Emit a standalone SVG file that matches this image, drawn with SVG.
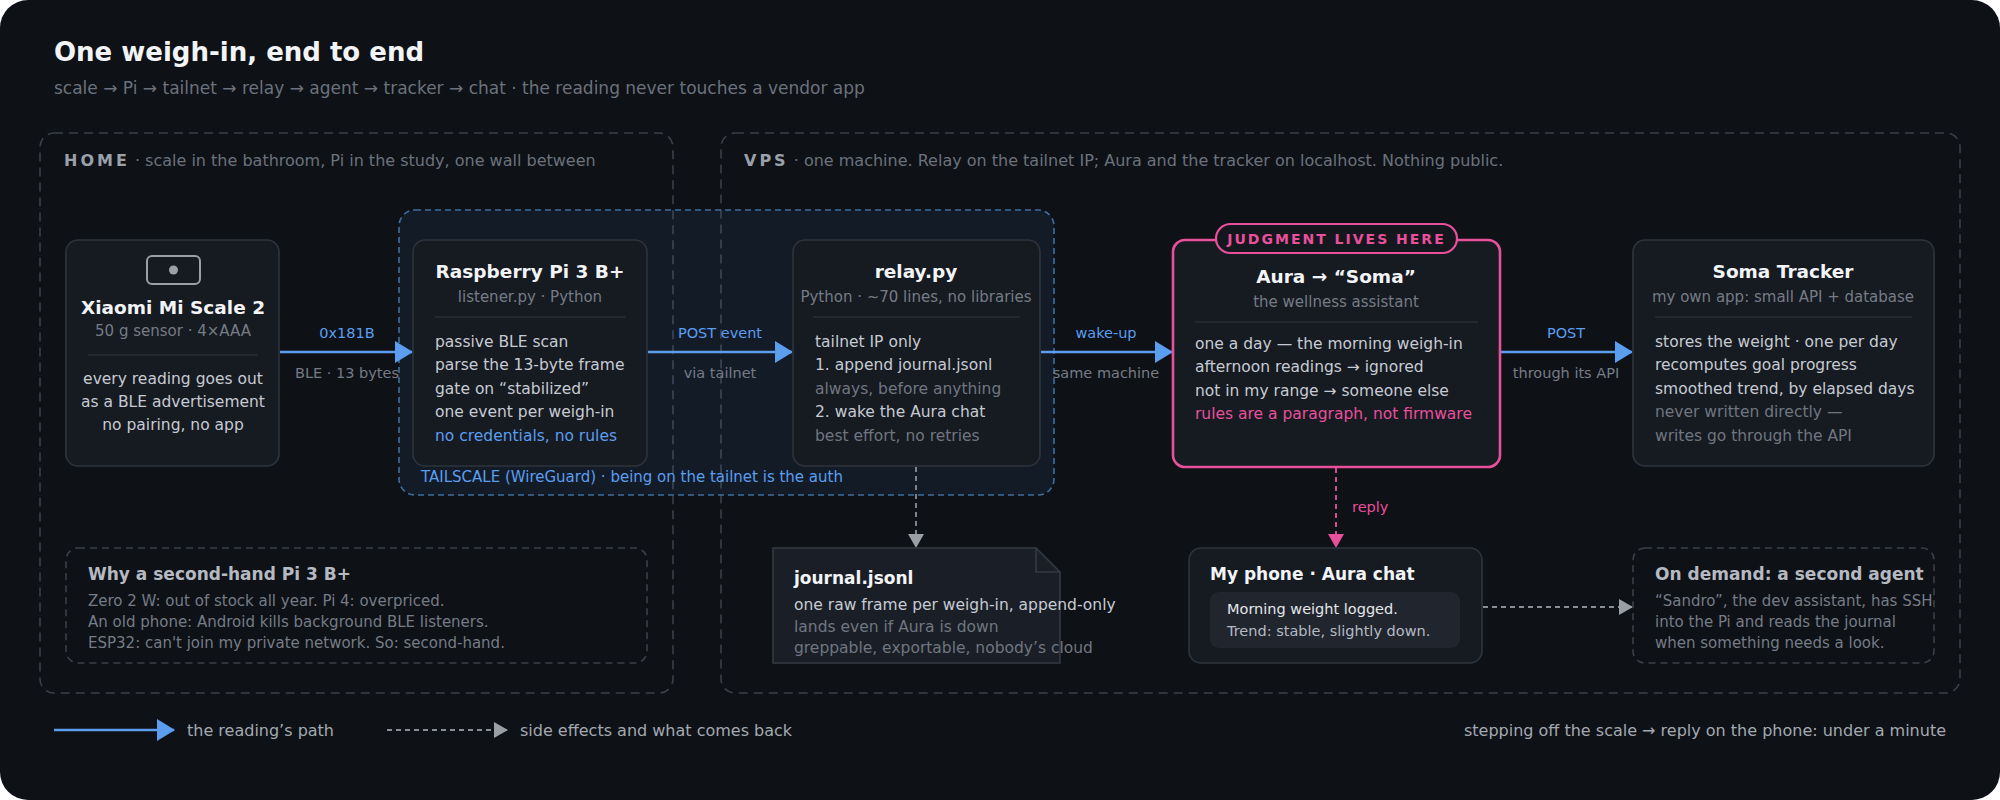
<svg xmlns="http://www.w3.org/2000/svg" width="2000" height="800" viewBox="0 0 2000 800">
<defs>
<style>
text{font-family:"DejaVu Sans","Liberation Sans",sans-serif}
.h1{font-size:26px;font-weight:bold;fill:#f2f4f7}
.sub{font-size:17px;fill:#6b727c}
.zone{fill:none;stroke:#3b4048;stroke-width:1.6;stroke-dasharray:9 6}
.zl{font-size:16px;font-weight:bold;fill:#9aa1ab;letter-spacing:3px}
.zs{font-size:16px;fill:#6b727c}
.node{fill:#161a21;stroke:#2e343d;stroke-width:1.6}
.nt{font-size:18.5px;font-weight:bold;fill:#f2f4f7;text-anchor:middle}
.ns{font-size:15px;fill:#757c86;text-anchor:middle}
.div{stroke:#30363f;stroke-width:1.2}
.b{font-size:15.5px;fill:#c6cbd3}
.bc{font-size:15.5px;fill:#c6cbd3;text-anchor:middle}
.dim{font-size:15.5px;fill:#6f7680}
.blue{font-size:15.5px;fill:#5b9ef0}
.pink{font-size:15.5px;fill:#e8509c}
.al{font-size:14.5px;fill:#5b9ef0;text-anchor:middle}
.ab{font-size:14.5px;fill:#757c86;text-anchor:middle}
.flow{stroke:#5b9ef0;stroke-width:2.6;fill:none}
.side{stroke:#8a8f96;stroke-width:1.8;fill:none;stroke-dasharray:5 4}
.note{fill:none;stroke:#3b4048;stroke-width:1.6;stroke-dasharray:7 5}
.nh{font-size:17px;font-weight:bold;fill:#b5bac2}
.nb{font-size:15px;fill:#757c86}
.leg{font-size:16px;fill:#a3a9b1}
</style>
<marker id="ab" markerWidth="18" markerHeight="22" refX="17" refY="11" orient="auto" markerUnits="userSpaceOnUse"><path d="M0,0 L18,11 L0,22 Z" fill="#5b9ef0"/></marker>
<marker id="ag" markerWidth="14" markerHeight="16" refX="13" refY="8" orient="auto" markerUnits="userSpaceOnUse"><path d="M0,0 L14,8 L0,16 Z" fill="#9a9fa6"/></marker>
<marker id="ap" markerWidth="14" markerHeight="16" refX="13" refY="8" orient="auto" markerUnits="userSpaceOnUse"><path d="M0,0 L14,8 L0,16 Z" fill="#e8509c"/></marker>
</defs>
<rect width="2000" height="800" fill="#ffffff"/>
<rect width="2000" height="800" rx="28" fill="#0e1116"/>
<text class="h1" x="54" y="61">One weigh-in, end to end</text>
<text class="sub" x="54" y="94">scale → Pi → tailnet → relay → agent → tracker → chat · the reading never touches a vendor app</text>

<g id="zone-home"><rect class="zone" x="40" y="133" width="633" height="560" rx="14"/>
<text x="64" y="166"><tspan class="zl">HOME</tspan><tspan class="zs"> · scale in the bathroom, Pi in the study, one wall between</tspan></text></g>
<g id="zone-vps"><rect class="zone" x="721" y="133" width="1239" height="560" rx="14"/>
<text x="744" y="166"><tspan class="zl">VPS</tspan><tspan class="zs"> · one machine. Relay on the tailnet IP; Aura and the tracker on localhost. Nothing public.</tspan></text></g>
<g id="zone-tailscale"><rect x="399" y="210" width="655" height="285" rx="16" fill="#5b9ef0" fill-opacity="0.08" stroke="#3f6e9e" stroke-width="1.6" stroke-dasharray="6 4"/>
<text x="421" y="482" font-size="15px" fill="#5b9ef0">TAILSCALE (WireGuard) · being on the tailnet is the auth</text></g>

<g id="connectors">
<line class="flow" x1="280" y1="352" x2="412" y2="352" marker-end="url(#ab)"/>
<text class="al" x="347" y="338">0x181B</text><text class="ab" x="347" y="378">BLE · 13 bytes</text>
<line class="flow" x1="648" y1="352" x2="792" y2="352" marker-end="url(#ab)"/>
<text class="al" x="720" y="338">POST event</text><text class="ab" x="720" y="378">via tailnet</text>
<line class="flow" x1="1041" y1="352" x2="1172" y2="352" marker-end="url(#ab)"/>
<text class="al" x="1106" y="338">wake-up</text><text class="ab" x="1106" y="378">same machine</text>
<line class="flow" x1="1501" y1="352" x2="1632" y2="352" marker-end="url(#ab)"/>
<text class="al" x="1566" y="338">POST</text><text class="ab" x="1566" y="378">through its API</text>
<line class="side" x1="916" y1="467" x2="916" y2="547" marker-end="url(#ag)"/>
<line x1="1336" y1="468" x2="1336" y2="547" stroke="#e8509c" stroke-width="1.8" stroke-dasharray="5 4" marker-end="url(#ap)"/>
<text x="1352" y="512" font-size="14.5px" fill="#e8509c">reply</text>
<line class="side" x1="1483" y1="607" x2="1632" y2="607" marker-end="url(#ag)"/>
</g>

<g id="node-scale"><rect class="node" x="66" y="240" width="213" height="226" rx="12"/>
<rect x="147" y="256" width="53" height="28" rx="5" fill="none" stroke="#9aa0a8" stroke-width="2"/>
<circle cx="173.5" cy="270" r="4.5" fill="#9aa0a8"/>
<text class="nt" x="173" y="314">Xiaomi Mi Scale 2</text>
<text class="ns" x="173" y="336">50 g sensor · 4×AAA</text>
<line class="div" x1="88" y1="355" x2="258" y2="355"/>
<text class="bc" x="173" y="384">every reading goes out</text>
<text class="bc" x="173" y="407">as a BLE advertisement</text>
<text class="bc" x="173" y="430">no pairing, no app</text></g>

<g id="node-pi"><rect class="node" x="413" y="240" width="234" height="226" rx="12"/>
<text class="nt" x="530" y="278">Raspberry Pi 3 B+</text>
<text class="ns" x="530" y="302">listener.py · Python</text>
<line class="div" x1="435" y1="317" x2="626" y2="317"/>
<text class="b" x="435" y="347">passive BLE scan</text>
<text class="b" x="435" y="370">parse the 13-byte frame</text>
<text class="b" x="435" y="394">gate on “stabilized”</text>
<text class="b" x="435" y="417">one event per weigh-in</text>
<text class="blue" x="435" y="441">no credentials, no rules</text></g>

<g id="node-relay"><rect class="node" x="793" y="240" width="247" height="226" rx="12"/>
<text class="nt" x="916" y="278">relay.py</text>
<text class="ns" x="916" y="302">Python · ~70 lines, no libraries</text>
<line class="div" x1="813" y1="317" x2="1020" y2="317"/>
<text class="b" x="815" y="347">tailnet IP only</text>
<text class="b" x="815" y="370">1. append journal.jsonl</text>
<text class="dim" x="815" y="394">always, before anything</text>
<text class="b" x="815" y="417">2. wake the Aura chat</text>
<text class="dim" x="815" y="441">best effort, no retries</text></g>

<g id="node-aura"><rect x="1173" y="240" width="327" height="227" rx="12" fill="#161a21" stroke="#e8509c" stroke-width="2.6"/>
<rect x="1216" y="224" width="241" height="29" rx="14.5" fill="#14171d" stroke="#e8509c" stroke-width="2.2"/>
<text x="1336.5" y="244" font-size="14px" font-weight="bold" fill="#e8509c" text-anchor="middle" letter-spacing="2px">JUDGMENT LIVES HERE</text>
<text class="nt" x="1336" y="283">Aura → “Soma”</text>
<text class="ns" x="1336" y="307">the wellness assistant</text>
<line class="div" x1="1195" y1="322" x2="1478" y2="322"/>
<text class="b" x="1195" y="349">one a day — the morning weigh-in</text>
<text class="b" x="1195" y="372">afternoon readings → ignored</text>
<text class="b" x="1195" y="396">not in my range → someone else</text>
<text class="pink" x="1195" y="419">rules are a paragraph, not firmware</text></g>

<g id="node-tracker"><rect class="node" x="1633" y="240" width="301" height="226" rx="12"/>
<text class="nt" x="1783" y="278">Soma Tracker</text>
<text class="ns" x="1783" y="302">my own app: small API + database</text>
<line class="div" x1="1655" y1="317" x2="1912" y2="317"/>
<text class="b" x="1655" y="347">stores the weight · one per day</text>
<text class="b" x="1655" y="370">recomputes goal progress</text>
<text class="b" x="1655" y="394">smoothed trend, by elapsed days</text>
<text class="dim" x="1655" y="417">never written directly —</text>
<text class="dim" x="1655" y="441">writes go through the API</text></g>

<g id="node-journal"><path d="M773,548 H1036 L1060,572 V663 H773 Z" fill="#1a1f27" stroke="#343a44" stroke-width="1.6"/>
<path d="M1036,548 V572 H1060" fill="none" stroke="#343a44" stroke-width="1.6"/>
<text x="794" y="584" font-size="17px" font-weight="bold" fill="#f2f4f7">journal.jsonl</text>
<text class="b" x="794" y="610" font-size="15px">one raw frame per weigh-in, append-only</text>
<text class="dim" x="794" y="632" font-size="15px">lands even if Aura is down</text>
<text class="dim" x="794" y="653" font-size="15px">greppable, exportable, nobody’s cloud</text></g>

<g id="node-phone"><rect class="node" x="1189" y="548" width="293" height="115" rx="12"/>
<text x="1210" y="580" font-size="17px" font-weight="bold" fill="#f2f4f7">My phone · Aura chat</text>
<rect x="1210" y="592" width="250" height="56" rx="9" fill="#20252e"/>
<text x="1227" y="614" font-size="14.5px" fill="#e4e7eb">Morning weight logged.</text>
<text x="1227" y="636" font-size="14.5px" fill="#b5bac2">Trend: stable, slightly down.</text></g>

<g id="node-ondemand"><rect class="note" x="1633" y="548" width="301" height="115" rx="12"/>
<text class="nh" x="1655" y="580">On demand: a second agent</text>
<text class="nb" x="1655" y="606">“Sandro”, the dev assistant, has SSH</text>
<text class="nb" x="1655" y="627">into the Pi and reads the journal</text>
<text class="nb" x="1655" y="648">when something needs a look.</text></g>

<g id="node-why"><rect class="note" x="66" y="548" width="581" height="115" rx="12"/>
<text class="nh" x="88" y="580">Why a second-hand Pi 3 B+</text>
<text class="nb" x="88" y="606">Zero 2 W: out of stock all year. Pi 4: overpriced.</text>
<text class="nb" x="88" y="627">An old phone: Android kills background BLE listeners.</text>
<text class="nb" x="88" y="648">ESP32: can't join my private network. So: second-hand.</text></g>

<g id="legend">
<line class="flow" x1="54" y1="730" x2="174" y2="730" marker-end="url(#ab)"/>
<text class="leg" x="187" y="736">the reading’s path</text>
<line class="side" x1="387" y1="730" x2="507" y2="730" marker-end="url(#ag)"/>
<text class="leg" x="520" y="736">side effects and what comes back</text>
<text class="leg" x="1946" y="736" text-anchor="end" fill="#757c86">stepping off the scale → reply on the phone: under a minute</text>
</g>
</svg>
